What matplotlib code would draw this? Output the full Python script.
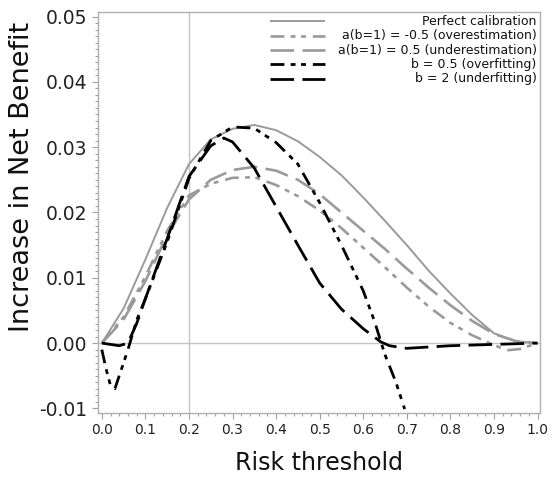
import numpy as np
import matplotlib
matplotlib.use("Agg")
import matplotlib.pyplot as plt
from matplotlib.ticker import MultipleLocator, FormatStrFormatter

plt.rcParams['axes.unicode_minus'] = False
plt.rcParams['lines.scale_dashes'] = False

# Perfect calibration
x_perf = [0, 0.05, 0.1, 0.15, 0.2, 0.25, 0.3, 0.35, 0.4, 0.45, 0.5, 0.55,
          0.6, 0.65, 0.7, 0.75, 0.8, 0.85, 0.9, 0.95, 1.0]
y_perf = [0, 0.0053, 0.0128, 0.0207, 0.0274, 0.0312, 0.0328, 0.0334, 0.0326,
          0.0309, 0.0285, 0.0257, 0.0223, 0.0187, 0.0150, 0.0111, 0.0076,
          0.0043, 0.0015, 0.0003, 0]

# a(b=1) = -0.5 (overestimation)
x_over = [0, 0.05, 0.1, 0.15, 0.2, 0.25, 0.3, 0.35, 0.4, 0.45, 0.5, 0.55,
          0.6, 0.65, 0.7, 0.75, 0.8, 0.85, 0.9, 0.93, 0.96, 1.0]
y_over = [0, 0.0040, 0.0102, 0.0172, 0.0226, 0.0244, 0.0253, 0.0254, 0.0242,
          0.0225, 0.0203, 0.0176, 0.0146, 0.0116, 0.0085, 0.0056, 0.0031,
          0.0012, -0.0003, -0.0011, -0.0009, 0]

# a(b=1) = 0.5 (underestimation)
x_under = [0, 0.05, 0.1, 0.15, 0.2, 0.25, 0.3, 0.35, 0.4, 0.45, 0.5, 0.55,
           0.6, 0.65, 0.7, 0.75, 0.8, 0.85, 0.9, 0.95, 1.0]
y_under = [0, 0.0036, 0.0095, 0.0165, 0.0220, 0.0250, 0.0265, 0.0270, 0.0264,
           0.0250, 0.0228, 0.0200, 0.0172, 0.0144, 0.0114, 0.0085, 0.0058,
           0.0034, 0.0014, 0.0003, 0]

# b = 0.5 (overfitting)
x_b05 = [0, 0.01, 0.02, 0.03, 0.04, 0.05, 0.06, 0.08, 0.1, 0.15, 0.2, 0.25,
         0.3, 0.35, 0.4, 0.45, 0.5, 0.55, 0.6, 0.625, 0.65, 0.675, 0.695]
y_b05 = [-0.001, -0.004, -0.0065, -0.007, -0.005, -0.003, -0.001, 0.0035,
         0.0068, 0.0155, 0.0252, 0.0310, 0.0331, 0.0329, 0.0307, 0.0274,
         0.0215, 0.0150, 0.0080, 0.0035, -0.0018, -0.0060, -0.0101]

# b = 2 (underfitting)
x_b2 = [0, 0.02, 0.04, 0.06, 0.08, 0.1, 0.15, 0.2, 0.25, 0.28, 0.3, 0.35,
        0.4, 0.45, 0.5, 0.55, 0.6, 0.64, 0.66, 0.7, 0.75, 0.8, 0.9, 1.0]
y_b2 = [0, -0.0002, -0.0004, 0.0, 0.003, 0.0068, 0.0160, 0.0255, 0.0302,
        0.0314, 0.0308, 0.0268, 0.0209, 0.0150, 0.0092, 0.0052, 0.0022,
        0.0002, -0.0004, -0.0008, -0.0006, -0.0004, -0.0002, 0]

labels = ["Perfect calibration",
          "a(b=1) = -0.5 (overestimation)",
          "a(b=1) = 0.5 (underestimation)",
          "b = 0.5 (overfitting)",
          "b = 2 (underfitting)"]

grey = "#9a9a9a"
long_short = (0, (10, 4.5, 3.5, 4, 3.5, 5))
long_dash = (0, (17, 6))
styles = [
    dict(color=grey, lw=1.4, ls="-"),
    dict(color=grey, lw=1.9, ls=long_short),
    dict(color=grey, lw=1.9, ls=long_dash),
    dict(color="black", lw=2.0, ls=long_short),
    dict(color="black", lw=2.0, ls=long_dash),
]
series = [(x_perf, y_perf), (x_over, y_over), (x_under, y_under),
          (x_b05, y_b05), (x_b2, y_b2)]

fig = plt.figure(figsize=(5.53, 4.78), dpi=100)
ax = fig.add_axes([0.177, 0.136, 0.799, 0.839])

ax.axhline(0, color="#c4c4c4", lw=1.0, zorder=1)
ax.axvline(0.2, color="#c4c4c4", lw=1.0, zorder=1)

for (xs, ys), st in zip(series, styles):
    ax.plot(xs, ys, solid_capstyle="butt", dash_capstyle="butt", **st, zorder=3)

ax.set_xlim(-0.009, 1.005)
ax.set_ylim(-0.0107, 0.0507)

ax.xaxis.set_major_locator(MultipleLocator(0.1))
ax.xaxis.set_minor_locator(MultipleLocator(0.02))
ax.yaxis.set_major_locator(MultipleLocator(0.01))
ax.yaxis.set_minor_locator(MultipleLocator(0.001))
ax.xaxis.set_major_formatter(FormatStrFormatter("%.1f"))
ax.yaxis.set_major_formatter(FormatStrFormatter("%.2f"))

for s in ax.spines.values():
    s.set_color("#b0b0b0")
    s.set_linewidth(1.0)
ax.tick_params(which="both", direction="out", color="#a0a0a0", width=0.8)
ax.tick_params(which="major", length=4)
ax.tick_params(which="minor", length=2.5)
ax.tick_params(axis="x", labelsize=10, colors="#a0a0a0", labelcolor="#222222")
ax.tick_params(axis="y", labelsize=13.5, colors="#a0a0a0", labelcolor="#222222")

ax.set_xlabel("Risk threshold", fontsize=17, labelpad=10, color="#111111")
ax.set_ylabel("Increase in Net Benefit", fontsize=19.5, color="#111111")
ax.yaxis.set_label_coords(-0.143, 0.589)

# legend: handles on the left, text right aligned
row_y = [0.977, 0.941, 0.905, 0.870, 0.834]
for lab, st, yy in zip(labels, styles, row_y):
    ax.plot([0.389, 0.513], [yy, yy], transform=ax.transAxes, clip_on=False,
            solid_capstyle="butt", dash_capstyle="butt", **st)
    ax.text(0.993, yy, lab, transform=ax.transAxes, ha="right", va="center",
            fontsize=9, color="#111111")

fig.savefig("out.png", dpi=100)
